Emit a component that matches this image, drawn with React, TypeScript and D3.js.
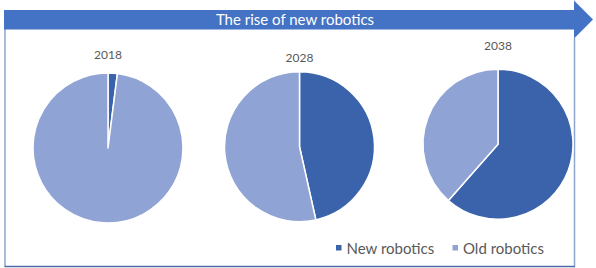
import React from "react";
import * as d3 from "d3";

const years = ["2018", "2028", "2038"];
const seriesNames = ["New robotics", "Old robotics"];
const newRobotics = [2, 46.5, 61.5];
const oldRobotics = [98, 53.5, 38.5];
const colors = ["#3A63AB", "#8FA3D4"];

const W = 596;
const H = 268;

export default function App() {
  const centers = [
    { cx: 108, cy: 148, ly: 59 },
    { cx: 299.5, cy: 146.7, ly: 62 },
    { cx: 498, cy: 144.2, ly: 50 },
  ];
  const r = 75;
  const pie = d3.pie<number>().sort(null).value((d) => d);
  const arc = d3.arc<d3.PieArcDatum<number>>().innerRadius(0).outerRadius(r);

  return (
    <div style={{ position: "absolute", left: 0, top: 0 }}>
      <svg width={W} height={H} style={{ display: "block" }}>
        <rect x={0} y={0} width={W} height={H} fill="#fff" />
        {/* frame */}
        <line x1={5} y1={29} x2={5} y2={266.5} stroke="#8EA5CF" strokeWidth={1.5} />
        <line x1={574.5} y1={38} x2={574.5} y2={266.5} stroke="#8EA5CF" strokeWidth={1.5} />
        <line x1={4.5} y1={266.5} x2={575} y2={266.5} stroke="#4F6BA6" strokeWidth={1.5} />
        {/* banner arrow */}
        <path
          d="M4,10 L574,10 L574,0.5 L593,19.5 L574,38.5 L574,29.5 L4,29.5 Z"
          fill="#4472C4"
        />
        <text
          x={295}
          y={25}
          textAnchor="middle"
          fill="#fff"
          fontFamily="Lato, 'Open Sans', sans-serif"
          fontSize={15}
        >
          The rise of new robotics
        </text>
        {years.map((y, i) => {
          const c = centers[i];
          const arcs = pie([newRobotics[i], oldRobotics[i]]);
          return (
            <g key={y}>
              <text
                x={c.cx}
                y={c.ly}
                textAnchor="middle"
                fill="#595959"
                fontFamily="Lato, 'Open Sans', sans-serif"
                fontSize={12}
              >
                {y}
              </text>
              <g transform={`translate(${c.cx},${c.cy})`}>
                {arcs.map((a, j) => (
                  <path
                    key={j}
                    d={arc(a) || ""}
                    fill={colors[j]}
                    stroke="#fff"
                    strokeWidth={1.5}
                    strokeLinejoin="round"
                  />
                ))}
              </g>
            </g>
          );
        })}
        {/* legend */}
        {seriesNames.map((s, i) => {
          const x = i === 0 ? 336 : 452.5;
          return (
            <g key={s}>
              <rect x={x} y={245} width={5.5} height={5.5} fill={colors[i]} />
              <text
                x={x + 10.5}
                y={254}
                fill="#595959"
                fontFamily="Lato, 'Open Sans', sans-serif"
                fontSize={15}
              >
                {s}
              </text>
            </g>
          );
        })}
      </svg>
    </div>
  );
}
